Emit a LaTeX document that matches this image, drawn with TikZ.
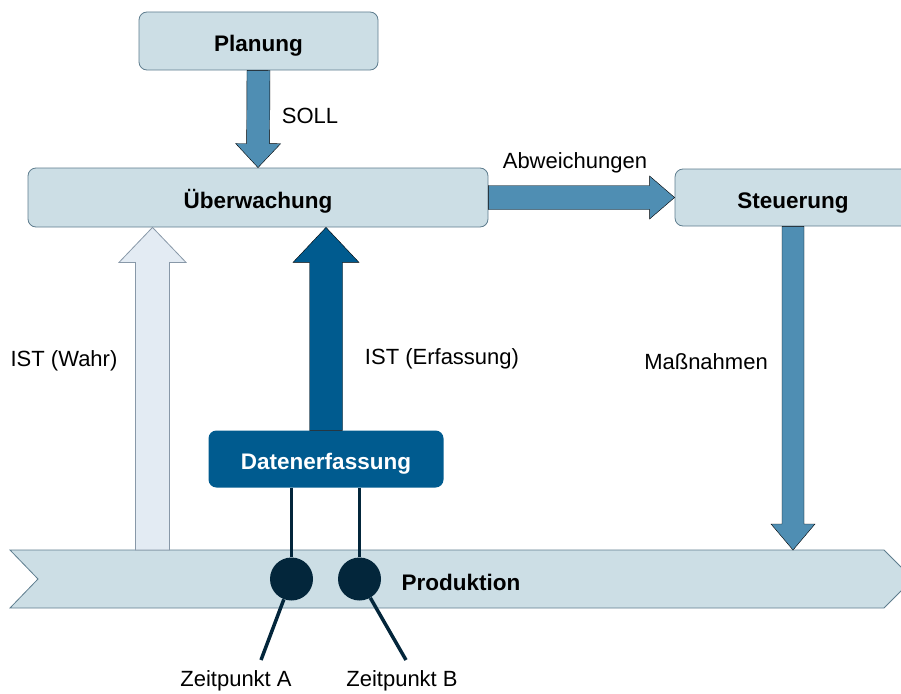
\documentclass[tikz,border=0pt]{standalone}
\usepackage{fontspec}
\setmainfont{Liberation Sans}
\usetikzlibrary{calc, positioning}

\definecolor{boxfill}{HTML}{CCDEE5}
\definecolor{boxline}{HTML}{5E7D8E}
\definecolor{flowblue}{HTML}{4F8EB3}
\definecolor{darkblue}{HTML}{005B8F}
\definecolor{navy}{HTML}{03263B}
\definecolor{paleblue}{HTML}{E3EBF3}
\definecolor{paleline}{HTML}{8898A8}

\tikzset{
  stage/.style={draw=boxline, fill=boxfill, rounded corners=8pt, line width=0.8pt,
    text height=21.5pt, text depth=0pt, font=\fontsize{22.5}{26}\selectfont\bfseries},
  capture/.style={fill=darkblue, rounded corners=8pt, text=white,
    text height=21.5pt, text depth=0pt, font=\fontsize{22.5}{26}\selectfont\bfseries},
  tag/.style={font=\fontsize{22}{26}\selectfont},
  flow/.style={fill=flowblue},
  dataflow/.style={fill=darkblue},
  trueflow/.style={fill=paleblue, draw=paleline, line width=0.8pt},
  probe/.style={circle, fill=navy, minimum size=43pt, inner sep=0pt},
  wire/.style={draw=navy, line width=3.5pt}
}

% block arrow: [style]{from}{to}{half shaft}{half head}{head length}
\newcommand{\blockarrow}[6][]{%
  \path ($(#3)!#6!(#2)$) coordinate (hb);
  \draw[#1] ($(#2)!#4!90:(#3)$) -- ($(hb)!#4!-90:(#2)$) -- ($(hb)!#5!-90:(#2)$) -- (#3)
    -- ($(hb)!#5!90:(#2)$) -- ($(hb)!#4!90:(#2)$) -- ($(#2)!#4!-90:(#3)$) -- cycle;
}

\begin{document}
\begin{tikzpicture}[x=1pt, y=-1pt]
\useasboundingbox (0,0) rectangle (901,693);

% production band
\coordinate (bandtop) at (10,550);
\draw[draw=boxline, fill=boxfill, line width=0.8pt] (bandtop) -- (884,550) -- (913,579) -- (884,608) -- (10,608) -- (38,579) -- cycle;
\node[tag, font=\fontsize{22.5}{26}\selectfont\bfseries] (prod) at (461,582) {Produktion};

% boxes
\node[stage, minimum width=239pt, minimum height=58pt] (plan) at (258.5,41) {Planung};
\node[stage, minimum width=460pt, minimum height=59pt] (ueber) at (258,197.5) {Überwachung};
\node[stage, minimum width=236pt, minimum height=57pt] (steu) at (793,197.5) {Steuerung};
\node[capture, minimum width=235pt, minimum height=57pt] (daten) at (326,459) {Datenerfassung};

% measuring points
\node[probe] (ca) at (291.5,579) {};
\node[probe] (cb) at (359.5,579) {};
\draw[wire] (ca |- daten.south) -- (ca);
\draw[wire] (cb |- daten.south) -- (cb);
\coordinate (ea) at (261,660);
\coordinate (eb) at (406,660);
\draw[wire] (ca) -- (ea);
\draw[wire] (cb) -- (eb);
\node[tag] (za) at (236,681) {Zeitpunkt A};
\node[tag] (zb) at (402,681) {Zeitpunkt B};

% arrows
\coordinate (wahrfoot) at (152.5,550);
\coordinate (wahrtop) at (wahrfoot |- ueber.south);
\coordinate (erftop) at (daten.north |- ueber.south);
\coordinate (massend) at (steu.south |- bandtop);
\blockarrow[flow]{plan.south}{ueber.north}{11.5pt}{22.5pt}{24pt}
\blockarrow[flow]{ueber.east}{steu.west}{12pt}{21.5pt}{25pt}
\blockarrow[flow]{steu.south}{massend}{11pt}{22pt}{26pt}
\blockarrow[trueflow]{wahrfoot}{wahrtop}{17pt}{33.5pt}{35pt}
\blockarrow[dataflow]{daten.north}{erftop}{16.5pt}{33pt}{35pt}

\node[tag] (soll) at (310,116) {SOLL};
\node[tag] (abw) at (575,163) {Abweichungen};
\node[tag] (wahr) at (64,361) {IST (Wahr)};
\node[tag] (erf) at (442,359) {IST (Erfassung)};
\node[tag] (mass) at (706,362) {Maßnahmen};
\end{tikzpicture}
\end{document}
